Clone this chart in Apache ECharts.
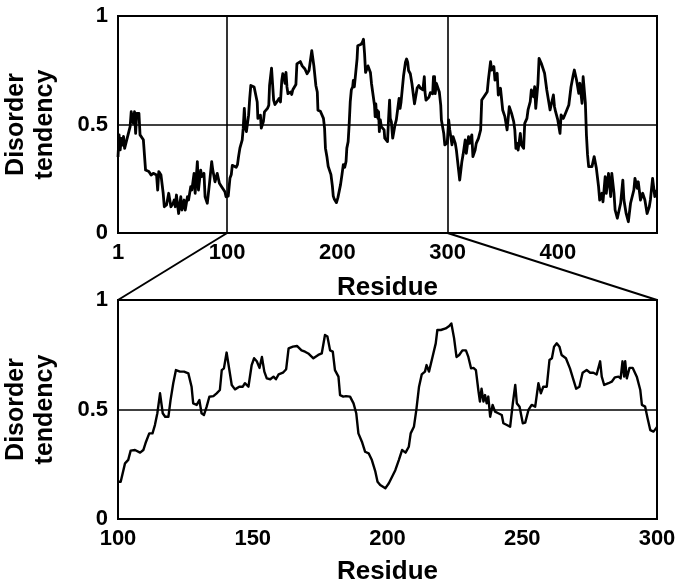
<!DOCTYPE html>
<html><head><meta charset="utf-8">
<script src="https://cdn.jsdelivr.net/npm/echarts@6/dist/echarts.min.js"></script>
<style>html,body{margin:0;padding:0;background:#fff}#c{width:675px;height:582px}</style>
</head><body><div id="c"></div>
<script>
// N-terminal part, residues 1-100
const nTermResidues = [1,2,3,4,5,6,7,9,10,12,13,15,16,17,18,20,21,24,26,29,31,33,36,37,38,40,42,43,45,47,49,51,52,53,54,56,58,59,61,62,64,65,67,68,70,71,73,74,76,77,79,80,82,84,86,87,89,91,93,95,98,99];
const nTermDisorder = [0.35,0.452,0.383,0.436,0.405,0.445,0.39,0.43,0.421,0.49,0.559,0.505,0.559,0.459,0.551,0.551,0.452,0.43,0.29,0.283,0.267,0.275,0.267,0.198,0.283,0.267,0.183,0.121,0.129,0.183,0.121,0.137,0.152,0.121,0.175,0.09,0.167,0.106,0.152,0.106,0.167,0.152,0.213,0.198,0.275,0.183,0.329,0.198,0.29,0.26,0.275,0.167,0.137,0.229,0.329,0.29,0.236,0.275,0.229,0.213,0.19,0.167];
// Middle part, residues 100-300
const midResidues = [100,101,102.6,103.8,104.7,106.3,108.2,109.4,110.4,111.6,112.8,113.7,114.6,115.6,116.6,117.5,118.7,119.5,120.5,121.5,123,124.5,126.1,127.3,127.9,129.2,130.2,131,131.9,132.9,133.9,135.4,136.6,137.8,138.5,139.3,140.3,141.2,142.2,143.4,145,146.3,147.1,148.4,149.6,150.5,151.5,152.5,153.4,154.3,155.2,156.5,157.7,158.6,159.6,161.2,162.4,163.3,164.9,166.4,168.1,169.4,170.6,172.5,174.3,175.6,176.8,177.7,178.7,179.7,180.5,181.8,182.4,183.6,184.6,186.1,187.4,188.4,189.2,190.5,191.7,193,194.2,195.5,196.3,197.3,198,199.2,200.5,201.7,202.9,204.2,205.4,206.7,207.9,208.6,209.8,210.7,211.7,212.7,213.9,214.5,215.4,216.7,217.9,218.5,219.8,221.6,222.9,223.7,224.7,225.6,226.6,227.8,229.1,230,231,231.9,232.8,233.7,234.3,234.9,235.6,236.2,236.8,237.4,238.1,239,239.9,241.1,242.4,243,244.3,245.5,246.5,247.4,248,249,250.2,251.1,252.3,253.5,254.8,256,256.9,257.8,259.1,260.1,261,261.8,262.8,263.8,264.6,266.2,267.7,269,270,271.2,272.4,273.9,275.2,276.4,277.6,278.9,279.5,280.4,282,283.2,284.4,285.7,286.5,287.2,287.8,288.2,288.8,289.8,291,292.5,293.8,294.4,295.6,296.5,297.5,298.7,299.7,300];
const midDisorder = [0.17,0.17,0.254,0.27,0.312,0.315,0.303,0.315,0.353,0.391,0.391,0.429,0.483,0.574,0.483,0.467,0.467,0.543,0.62,0.68,0.673,0.673,0.665,0.604,0.528,0.521,0.543,0.483,0.475,0.513,0.558,0.561,0.574,0.589,0.68,0.688,0.76,0.69,0.612,0.592,0.604,0.604,0.62,0.604,0.703,0.734,0.72,0.69,0.74,0.673,0.642,0.638,0.65,0.638,0.66,0.668,0.684,0.779,0.787,0.79,0.77,0.764,0.756,0.734,0.749,0.756,0.84,0.833,0.77,0.764,0.68,0.65,0.566,0.559,0.561,0.559,0.528,0.483,0.391,0.353,0.307,0.3,0.269,0.216,0.17,0.155,0.163,0.14,0.163,0.193,0.223,0.269,0.315,0.303,0.33,0.391,0.421,0.498,0.604,0.66,0.673,0.703,0.673,0.74,0.802,0.863,0.863,0.87,0.881,0.893,0.826,0.74,0.749,0.77,0.77,0.74,0.688,0.69,0.68,0.589,0.536,0.595,0.536,0.566,0.528,0.559,0.467,0.521,0.49,0.483,0.475,0.437,0.429,0.421,0.528,0.612,0.528,0.513,0.437,0.44,0.498,0.521,0.513,0.62,0.574,0.604,0.604,0.726,0.734,0.787,0.802,0.787,0.749,0.734,0.688,0.635,0.595,0.604,0.668,0.68,0.668,0.668,0.66,0.72,0.65,0.612,0.62,0.627,0.647,0.65,0.642,0.72,0.65,0.72,0.642,0.69,0.69,0.65,0.589,0.521,0.513,0.46,0.406,0.399,0.415,0.42];
// C-terminal part, residues 300-490
const cTermResidues = [301,302,304,305,307,308,310,311,313,314,316,317,319,320,322,323,325,326,328,330,331,333,336,337,339,340,342,343,345,346,348,350,352,354,356,358,360,361,362,363,364,366,367,369,370,372,373,375,376,378,379,380,382,383,385,388,390,392,393,395,396,397,398,400,402,403,405,407,410,412,414,415,417,419,420,422,423,425,426,427,428,431,433,435,437,438,440,441,443,444,446,448,449,451,452,454,457,459,460,462,464,466,469,470,472,473,475,477,479,481,483,484,486,488,489];
const cTermDisorder = [0.521,0.475,0.406,0.444,0.413,0.382,0.29,0.244,0.33,0.359,0.429,0.367,0.444,0.413,0.452,0.352,0.382,0.413,0.436,0.475,0.613,0.628,0.651,0.705,0.79,0.751,0.767,0.705,0.736,0.636,0.667,0.567,0.536,0.475,0.582,0.552,0.513,0.475,0.39,0.413,0.382,0.459,0.406,0.39,0.505,0.528,0.567,0.605,0.659,0.628,0.674,0.574,0.69,0.805,0.782,0.736,0.659,0.598,0.567,0.613,0.636,0.582,0.559,0.521,0.459,0.544,0.528,0.552,0.59,0.674,0.728,0.751,0.705,0.644,0.69,0.598,0.72,0.6,0.45,0.36,0.306,0.306,0.352,0.298,0.213,0.152,0.183,0.144,0.26,0.183,0.275,0.168,0.275,0.183,0.106,0.068,0.137,0.244,0.152,0.09,0.052,0.137,0.198,0.252,0.206,0.236,0.152,0.183,0.152,0.09,0.121,0.152,0.252,0.168,0.2];

const overviewTicks = [1, 100, 200, 300, 400];
const zoomTicks = [100, 150, 200, 250, 300];
const overviewRange = [1, 490];
const zoomRange = [100, 300];
const threshold = 0.5;
const xTitle = 'Residue';
const yTitle = 'Disorder\ntendency';

const residues = nTermResidues.concat(midResidues, cTermResidues);
const disorder = nTermDisorder.concat(midDisorder, cTermDisorder);
const points = residues.map((r, i) => [r, disorder[i]]);
const zoomPoints = points.filter(p => p[0] >= zoomRange[0] && p[0] <= zoomRange[1]);

const FONT = '"Liberation Sans", Arial, sans-serif';
const tickFont = { color: '#000', fontFamily: FONT, fontWeight: 'bold', fontSize: 22 };
const nameFont = { color: '#000', fontFamily: FONT, fontWeight: 'bold', fontSize: 25 };

function xAxisCfg(grid, range, ticks, gap) {
  return {
    type: 'value', gridIndex: grid, min: range[0], max: range[1],
    axisLine: { show: false }, axisTick: { show: false, customValues: ticks }, splitLine: { show: false },
    axisLabel: Object.assign({ customValues: ticks, margin: 9 }, tickFont),
    name: xTitle, nameLocation: 'middle', nameGap: gap, nameMoveOverlap: false,
    nameTextStyle: Object.assign({}, nameFont, { fontSize: 26 })
  };
}
function yAxisCfg(grid) {
  return {
    type: 'value', gridIndex: grid, min: 0, max: 1, interval: 0.5,
    axisLine: { show: false }, axisTick: { show: false }, splitLine: { show: false },
    axisLabel: Object.assign({ margin: 10 }, tickFont),
    name: yTitle, nameLocation: 'middle', nameRotate: 90, nameGap: 58, nameMoveOverlap: false,
    nameTextStyle: Object.assign({ lineHeight: 29, align: 'center' }, nameFont)
  };
}
const thresholdLine = { yAxis: threshold };

const chart = echarts.init(document.getElementById('c'), null, { renderer: 'canvas' });
chart.setOption({
  animation: false,
  backgroundColor: '#fff',
  grid: [
    { left: 118, top: 16, width: 539, height: 217, show: true, borderColor: '#000', borderWidth: 2, backgroundColor: 'transparent', outerBoundsMode: 'none' },
    { left: 118, top: 300, width: 539, height: 219, show: true, borderColor: '#000', borderWidth: 2, backgroundColor: 'transparent', outerBoundsMode: 'none' }
  ],
  xAxis: [xAxisCfg(0, overviewRange, overviewTicks, 42), xAxisCfg(1, zoomRange, zoomTicks, 40)],
  yAxis: [yAxisCfg(0), yAxisCfg(1)],
  series: [
    {
      type: 'line', xAxisIndex: 0, yAxisIndex: 0, data: points, showSymbol: false, clip: true,
      lineStyle: { color: '#000', width: 2.8, join: 'round' },
      markLine: {
        silent: true, symbol: 'none', label: { show: false },
        lineStyle: { color: '#000', width: 1.6, type: 'solid' },
        data: [thresholdLine, { xAxis: zoomRange[0] }, { xAxis: zoomRange[1] }]
      }
    },
    {
      type: 'line', xAxisIndex: 1, yAxisIndex: 1, data: zoomPoints, showSymbol: false, clip: true,
      lineStyle: { color: '#000', width: 2.4, join: 'round' },
      markLine: {
        silent: true, symbol: 'none', label: { show: false },
        lineStyle: { color: '#000', width: 1.6, type: 'solid' },
        data: [thresholdLine]
      }
    }
  ]
});

// zoom connector lines from the overview axis to the zoomed panel's top corners
const a0 = chart.convertToPixel({ gridIndex: 0 }, [zoomRange[0], 0]);
const a1 = chart.convertToPixel({ gridIndex: 1 }, [zoomRange[0], 1]);
const b0 = chart.convertToPixel({ gridIndex: 0 }, [zoomRange[1], 0]);
const b1 = chart.convertToPixel({ gridIndex: 1 }, [zoomRange[1], 1]);
chart.setOption({
  graphic: [
    { type: 'line', silent: true, shape: { x1: a0[0], y1: a0[1], x2: a1[0], y2: a1[1] }, style: { stroke: '#000', lineWidth: 2 } },
    { type: 'line', silent: true, shape: { x1: b0[0], y1: b0[1], x2: b1[0], y2: b1[1] }, style: { stroke: '#000', lineWidth: 2 } }
  ]
});
</script>
</body></html>
